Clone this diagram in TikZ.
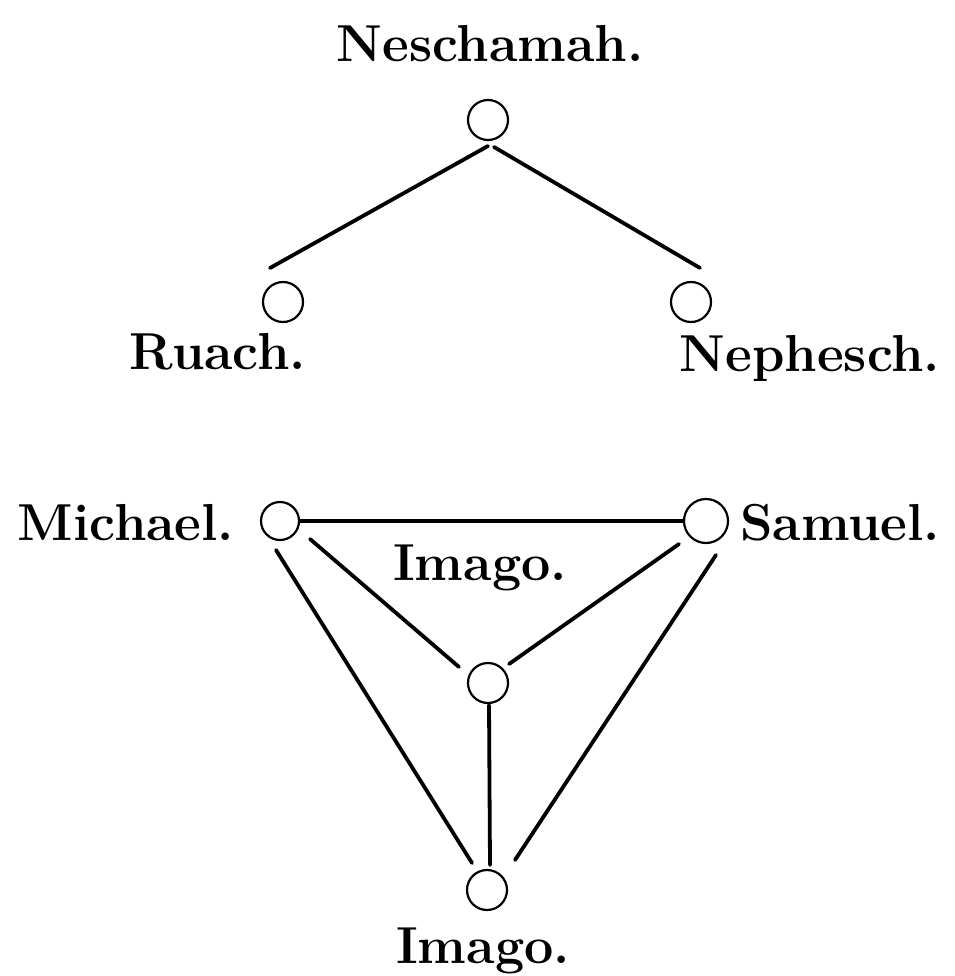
\documentclass[tikz,border=0pt]{standalone}
\begin{document}
\begin{tikzpicture}[x=1pt,y=-1pt,line join=round,line cap=round,
  soul/.style={circle,draw,line width=2.2pt,minimum size=40pt,inner sep=0pt},
  word/.style={anchor=base,inner sep=0pt,font=\fontsize{52}{60}\selectfont\bfseries},
  tie/.style={line width=3.8pt}]
\useasboundingbox (0,0) rectangle (954,976);
% upper triad
\node[soul] (Nes) at (488,120) {};
\node[soul] (Rua) at (283,302) {};
\node[soul] (Nep) at (691,302) {};
\node[word] (NesL) at (490,62) {Neschamah.};
\node[word] (RuaL) at (218,369) {Ruach.};
\node[word] (NepL) at (810,371) {Nephesch.};
\draw[tie] ([shift={(0,26)}]Nes.center) -- ([shift={(-13,-34)}]Rua.center);
\draw[tie] ([shift={(6,27)}]Nes.center) -- ([shift={(9,-34)}]Nep.center);
% lower triangle
\node[soul,minimum size=38pt] (Mic) at (280,521) {};
\node[soul,minimum size=44pt] (Sam) at (706,521) {};
\node[soul] (Mid) at (488,683) {};
\node[soul] (Bot) at (487,890) {};
\node[word] (MicL) at (126,540) {Michael.};
\node[word] (SamL) at (840,540) {Samuel.};
\node[word] (MidL) at (480,580) {Imago.};
\node[word] (BotL) at (483,963) {Imago.};
\draw[tie] (Mic.east) -- (Sam.west);
\draw[tie] ([shift={(30,18)}]Mic.center) -- ([shift={(-29,-16)}]Mid.center);
\draw[tie] ([shift={(-27,23)}]Sam.center) -- ([shift={(21,-19)}]Mid.center);
\draw[tie] ([shift={(-4,29)}]Mic.center) -- ([shift={(-15,-27)}]Bot.center);
\draw[tie] ([shift={(10,34)}]Sam.center) -- ([shift={(28,-30)}]Bot.center);
\draw[tie] ([shift={(1,22)}]Mid.center) -- ([shift={(3,-25)}]Bot.center);
\end{tikzpicture}
\end{document}
